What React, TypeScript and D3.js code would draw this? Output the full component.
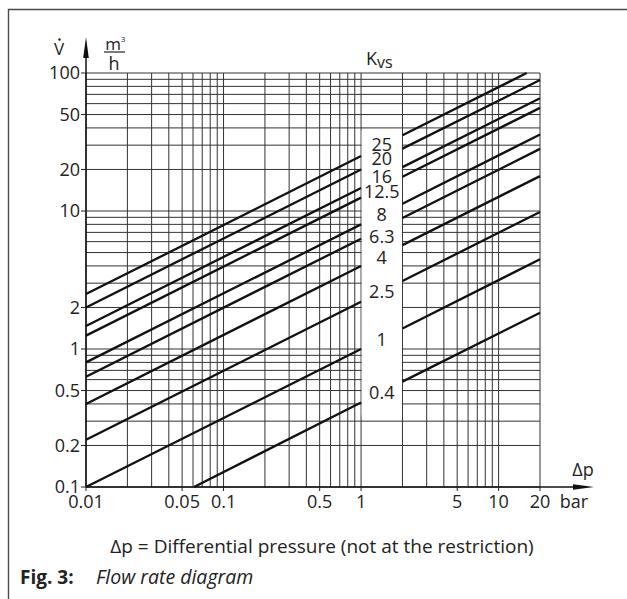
import { useEffect, useRef } from "react";
import * as d3 from "d3";

// Kvs curves as drawn in the diagram (flow in m³/h vs Δp in bar)
const kvsLabels = ["25", "20", "16", "12.5", "8", "6.3", "4", "2.5", "1", "0.4"];
// left part of every curve: [Δp, flow] at start and at Δp = 1 bar
const leftSegments = [
  [[0.01, 2.5], [1, 25]],
  [[0.01, 2.0], [1, 20]],
  [[0.01, 1.47], [1, 14.7]],
  [[0.01, 1.25], [1, 12.5]],
  [[0.01, 0.8], [1, 8]],
  [[0.01, 0.63], [1, 6.3]],
  [[0.01, 0.4], [1, 4]],
  [[0.01, 0.22], [1, 2.2]],
  [[0.01, 0.1], [1, 1]],
  [[0.061, 0.1], [1, 0.41]],
];
// right part of every curve: from Δp = 2 bar up to the frame
const rightSegments = [
  [[2, 35.4], [16, 100]],
  [[2, 28.3], [20, 89]],
  [[2, 20.8], [20, 65.7]],
  [[2, 17.7], [20, 55.9]],
  [[2, 11.3], [20, 35.8]],
  [[2, 8.9], [20, 28.2]],
  [[2, 5.66], [20, 17.9]],
  [[2, 3.11], [20, 9.84]],
  [[2, 1.41], [20, 4.47]],
  [[2, 0.58], [20, 1.83]],
];
// flow level where each Kvs label sits in the white column
const labelFlow = [30.3, 23.9, 17.9, 13.8, 9.5, 6.5, 4.6, 2.6, 1.18, 0.48];

const xTickValues = [0.01, 0.05, 0.1, 0.5, 1, 5, 10, 20];
const xTickLabels = ["0.01", "0.05", "0.1", "0.5", "1", "5", "10", "20"];
const yTickValues = [0.1, 0.2, 0.5, 1, 2, 10, 20, 50, 100];
const yTickLabels = ["0.1", "0.2", "0.5", "1", "2", "10", "20", "50", "100"];

const FONT = "'Open Sans', Lato, sans-serif";

const App = () => {
  const svgRef = useRef<SVGSVGElement>(null);

  useEffect(() => {
    const svg = d3.select(svgRef.current);
    svg.selectAll("*").remove();

    const x = d3.scaleLog().domain([0.01, 20]).range([86, 540]);
    const y = d3.scaleLog().domain([0.1, 100]).range([487, 73]);
    const [x0, x1] = x.range();
    const [y0, y1] = y.range();

    // frame (top + left)
    svg.append("path")
      .attr("d", "M8.5,599 L8.5,9.5 L627,9.5")
      .attr("fill", "none")
      .attr("stroke", "#4a4a4a")
      .attr("stroke-width", 1.4);

    const grid = svg.append("g").attr("stroke", "#333").attr("stroke-width", 1);
    grid.selectAll("line.h")
      .data(y.ticks())
      .enter()
      .append("line")
      .attr("x1", x0)
      .attr("x2", x1)
      .attr("y1", (d) => y(d))
      .attr("y2", (d) => y(d));
    grid.selectAll("line.v")
      .data(x.ticks())
      .enter()
      .append("line")
      .attr("x1", (d) => x(d))
      .attr("x2", (d) => x(d))
      .attr("y1", y0)
      .attr("y2", y1);

    // white column for Kvs labels between 1 and 2 bar
    svg.append("rect")
      .attr("x", x(1) + 0.6)
      .attr("width", x(2) - x(1) - 1.2)
      .attr("y", y(38))
      .attr("height", y(0.33) - y(38))
      .attr("fill", "#fff");

    // Kvs curves
    const line = d3
      .line<number[]>()
      .x((d) => x(d[0]))
      .y((d) => y(d[1]));
    svg.append("g")
      .selectAll("path")
      .data([...leftSegments, ...rightSegments])
      .enter()
      .append("path")
      .attr("d", (d) => line(d as number[][]))
      .attr("fill", "none")
      .attr("stroke", "#111")
      .attr("stroke-width", 2.3);

    // Kvs labels
    svg.append("g")
      .selectAll("text")
      .data(kvsLabels)
      .enter()
      .append("text")
      .attr("x", (x(1) + x(2)) / 2)
      .attr("y", (_, i) => y(labelFlow[i]))
      .attr("dy", "0.36em")
      .attr("text-anchor", "middle")
      .attr("font-family", FONT)
      .attr("font-size", 18)
      .attr("fill", "#222")
      .text((d) => d);

    // axes
    svg.append("line")
      .attr("x1", x0).attr("x2", x0)
      .attr("y1", y0).attr("y2", 50)
      .attr("stroke", "#111").attr("stroke-width", 1.5);
    svg.append("path")
      .attr("d", `M${x0},37 L${x0 + 2.8},58 L${x0 - 2.8},58 Z`)
      .attr("fill", "#111");
    svg.append("line")
      .attr("x1", x0).attr("x2", 580)
      .attr("y1", y0).attr("y2", y0)
      .attr("stroke", "#111").attr("stroke-width", 1.5);
    svg.append("path")
      .attr("d", `M594,${y0} L573,${y0 - 2.8} L573,${y0 + 2.8} Z`)
      .attr("fill", "#111");

    // y ticks + labels
    const yT = svg.append("g");
    yT.selectAll("line")
      .data(yTickValues)
      .enter()
      .append("line")
      .attr("x1", x0 - 5).attr("x2", x0)
      .attr("y1", (d) => y(d)).attr("y2", (d) => y(d))
      .attr("stroke", "#222");
    yT.selectAll("text")
      .data(yTickValues)
      .enter()
      .append("text")
      .attr("x", x0 - 6)
      .attr("y", (d) => y(d))
      .attr("dy", "0.34em")
      .attr("text-anchor", "end")
      .attr("font-family", FONT)
      .attr("font-size", 18)
      .attr("fill", "#222")
      .text((_, i) => yTickLabels[i]);

    // x ticks + labels
    const xT = svg.append("g");
    xT.selectAll("line")
      .data(xTickValues)
      .enter()
      .append("line")
      .attr("x1", (d) => x(d)).attr("x2", (d) => x(d))
      .attr("y1", y0).attr("y2", y0 + 4)
      .attr("stroke", "#222");
    xT.selectAll("text")
      .data(xTickValues)
      .enter()
      .append("text")
      .attr("x", (d) => x(d))
      .attr("y", y0 + 21)
      .attr("text-anchor", "middle")
      .attr("font-family", FONT)
      .attr("font-size", 18)
      .attr("fill", "#222")
      .text((_, i) => xTickLabels[i]);

    const txt = (tx: number, ty: number, s: string, size = 18, anchor = "middle") =>
      svg.append("text")
        .attr("x", tx)
        .attr("y", ty)
        .attr("text-anchor", anchor)
        .attr("font-family", FONT)
        .attr("font-size", size)
        .attr("fill", "#222")
        .text(s);

    // axis titles
    txt(59, 55, "V", 17);
    svg.append("circle").attr("cx", 59.5).attr("cy", 39.5).attr("r", 1.2).attr("fill", "#222");
    txt(113, 50, "m", 17);
    txt(123, 42, "3", 8);
    svg.append("line")
      .attr("x1", 104).attr("x2", 125)
      .attr("y1", 52).attr("y2", 52)
      .attr("stroke", "#222").attr("stroke-width", 1.2);
    txt(114, 70, "h", 18);

    const kvs = txt(366, 65, "K", 18, "start");
    kvs.append("tspan").attr("dy", 3).attr("font-size", 16).text("vs");

    txt(583, 476, "Δp", 18);
    txt(574, 508, "bar", 18);

    txt(322, 553, "Δp = Differential pressure (not at the restriction)", 19);

    const cap = txt(20, 584, "", 19, "start");
    cap.append("tspan").attr("font-weight", "bold").text("Fig. 3:");
    cap.append("tspan").attr("x", 96).attr("font-style", "italic").attr("font-size", 19.5).text("Flow rate diagram");
  }, []);

  return (
    <svg
      ref={svgRef}
      width={627}
      height={599}
      style={{ position: "absolute", left: 0, top: 0, background: "#fff" }}
    />
  );
};

export default App;
